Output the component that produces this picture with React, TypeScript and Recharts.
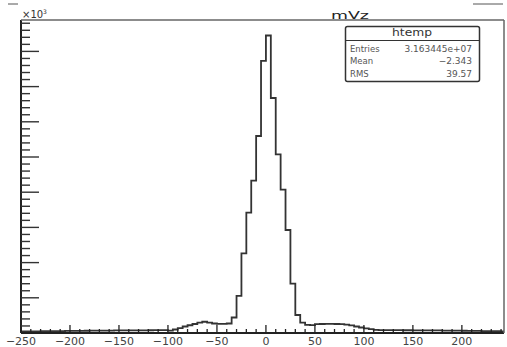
import { LineChart, Line, XAxis, YAxis } from 'recharts';

// histogram of mVz, 100 bins of width 5 starting at -250, counts in units of 10^3
const BIN_START = -250;
const BIN_WIDTH = 5;

const counts = [
  // -250 .. -105
  22, 23, 23, 24, 25, 26, 26, 27, 28, 29, 30, 30, 31, 32, 33,
  33, 34, 35, 35, 36, 36, 37, 37, 38, 38, 38, 39, 40, 41, 42,
  // -100 .. -40
  35, 50, 70, 92, 110, 128, 148, 160, 148, 135, 130, 130, 135,
  // -35 .. 30
  220, 526, 1132, 1709, 2163, 2798, 3864, 4226, 3338, 2538, 2036, 1463, 700, 256,
  // 35 .. 110
  146, 114, 112, 125, 128, 130, 130, 128, 126, 120, 108, 92, 78, 66, 54, 44,
  // 115 .. 245
  41, 41, 40, 40, 40, 39, 39, 38, 38, 37, 37, 36, 36, 35, 34, 34,
  33, 32, 31, 30, 29, 28, 27, 26, 25, 24, 23,
];

const statLabels = ['Entries', 'Mean', 'RMS'];
const statValues = ['3.163445e+07', '\u22122.343', '39.57'];

const histData = counts.map((c, i) => ({ x: BIN_START + i * BIN_WIDTH, count: c }));
histData.push({ x: BIN_START + counts.length * BIN_WIDTH, count: counts[counts.length - 1] });

const xTicks: number[] = [];
for (let v = -250; v <= 240; v += 10) xTicks.push(v);
const yTicks: number[] = [];
for (let v = 100; v <= 4400; v += 100) yTicks.push(v);

const FONT = '"DejaVu Sans", sans-serif';

const XTick = (props: any) => {
  const { x, y, payload } = props;
  const v = payload.value;
  const major = v % 50 === 0;
  return (
    <g>
      <line x1={x} x2={x} y1={y} y2={y - (major ? 8 : 4)} stroke="#222" strokeWidth={1.3} />
      {major && (
        <text x={x} y={y + 12} textAnchor="middle" fontSize={11} fontFamily={FONT} fill="#444">
          {v < 0 ? `\u2212${-v}` : v}
        </text>
      )}
    </g>
  );
};

const YTick = (props: any) => {
  const { x, y, payload } = props;
  const major = payload.value % 500 === 0;
  return <line x1={x} x2={x + (major ? 18 : 9)} y1={y} y2={y} stroke="#333" strokeWidth={1.4} />;
};

export default function App() {
  return (
    <div style={{ position: 'absolute', left: 0, top: 0, width: 507, height: 347, background: '#fff' }}>
      <LineChart width={507} height={347} data={histData} margin={{ top: 20, right: 3, bottom: 0, left: 20 }}>
        <XAxis
          type="number"
          dataKey="x"
          domain={[-250, 243]}
          allowDataOverflow
          ticks={xTicks}
          interval={0}
          tick={XTick}
          tickLine={false}
          tickSize={0}
          tickMargin={0}
          height={14}
          axisLine={{ stroke: '#222', strokeWidth: 2 }}
        />
        <YAxis
          type="number"
          domain={[0, 4446]}
          allowDataOverflow
          ticks={yTicks}
          interval={0}
          tick={YTick}
          tickLine={false}
          tickSize={0}
          tickMargin={0}
          width={1}
          axisLine={{ stroke: '#222', strokeWidth: 2 }}
        />
        <Line
          type="stepAfter"
          dataKey="count"
          stroke="#333"
          strokeWidth={1.8}
          dot={false}
          isAnimationActive={false}
        />
      </LineChart>
      <svg width={507} height={347} style={{ position: 'absolute', left: 0, top: 0, pointerEvents: 'none' }}>
        <line x1={8} x2={18} y1={4} y2={4} stroke="#555" />
        <line x1={473} x2={503} y1={4} y2={4} stroke="#555" />
        <line x1={21} x2={504} y1={20} y2={20} stroke="#666" strokeWidth={1.5} />
        <line x1={504} x2={504} y1={20} y2={333} stroke="#666" strokeWidth={1.5} />
        <text x={22} y={18} fontSize={10} fontFamily={FONT} fill="#333">
          {'\u00d710'}
          <tspan dy={-4} fontSize={6}>3</tspan>
        </text>
        <text x={331} y={19} fontSize={11} fontFamily={FONT} fill="#222" textLength={38} lengthAdjust="spacingAndGlyphs">
          mVz
        </text>
        <rect x={345.5} y={26.5} width={134} height={55} rx={2} fill="#fff" stroke="#333" strokeWidth={1.5} />
        <line x1={345.5} x2={479.5} y1={40.5} y2={40.5} stroke="#333" strokeWidth={1.2} />
        <text x={392} y={36} fontSize={10} fontFamily={FONT} fill="#333" textLength={40} lengthAdjust="spacingAndGlyphs">
          htemp
        </text>
        {statLabels.map((s, i) => (
          <text key={s} x={350} y={51.5 + i * 12.5} fontSize={8.5} fontFamily={FONT} fill="#555">
            {s}
          </text>
        ))}
        {statValues.map((s, i) => (
          <text key={s} x={472} y={51.5 + i * 12.5} fontSize={9} fontFamily={FONT} fill="#555" textAnchor="end">
            {s}
          </text>
        ))}
      </svg>
    </div>
  );
}
